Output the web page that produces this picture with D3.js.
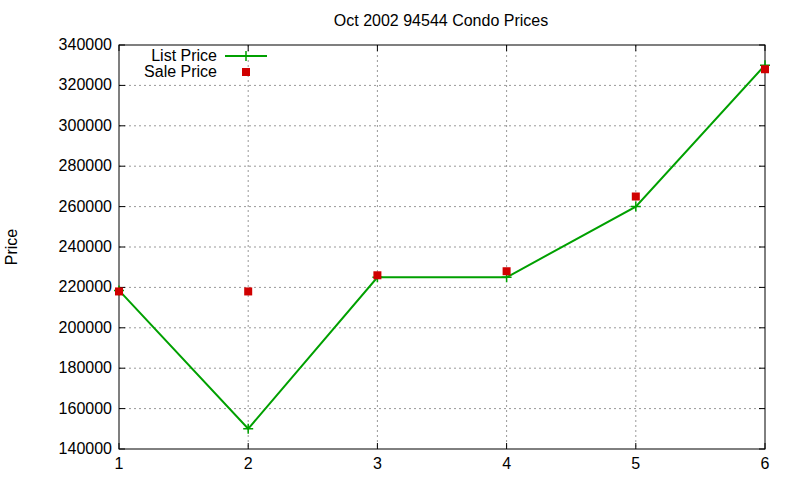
<!DOCTYPE html><html><head><script src="https://cdn.jsdelivr.net/npm/d3@7"></script>
<style>body{margin:0;background:#fff}text{font-family:"Liberation Sans",Arial,sans-serif}</style></head><body>
<script>
const xs=[1,2,3,4,5,6];
const listPrice=[218500,150000,225000,225000,260000,330000];
const salePrice=[218000,218000,226000,228000,265000,328000];
const yTicks=[140000,160000,180000,200000,220000,240000,260000,280000,300000,320000,340000];
const W=800,H=480,L=119,R=765,T=45,B=449,FS=16;
const svg=d3.select("body").append("svg").attr("width",W).attr("height",H);
const x=d3.scaleLinear().domain([1,6]).range([L,R]);
const y=d3.scaleLinear().domain([140000,340000]).range([B,T]);
const g=svg.append("g");
xs.forEach(v=>{if(v>1&&v<6)g.append("line").attr("x1",x(v)).attr("x2",x(v)).attr("y1",T).attr("y2",B).attr("stroke","#999").attr("stroke-dasharray","2,3");});
yTicks.forEach(v=>{if(v>140000&&v<340000)g.append("line").attr("x1",L).attr("x2",R).attr("y1",y(v)).attr("y2",y(v)).attr("stroke","#999").attr("stroke-dasharray","2,3");});
svg.append("rect").attr("x",L).attr("y",T).attr("width",R-L).attr("height",B-T).attr("fill","none").attr("stroke","#000");
yTicks.forEach(v=>{
 svg.append("line").attr("x1",L).attr("x2",L+6).attr("y1",y(v)).attr("y2",y(v)).attr("stroke","#000");
 svg.append("line").attr("x1",R).attr("x2",R-6).attr("y1",y(v)).attr("y2",y(v)).attr("stroke","#000");
 svg.append("text").attr("x",L-7).attr("y",y(v)+5).attr("text-anchor","end").attr("font-size",FS).text(v);
});
xs.forEach(v=>{
 svg.append("line").attr("x1",x(v)).attr("x2",x(v)).attr("y1",B).attr("y2",B-6).attr("stroke","#000");
 svg.append("line").attr("x1",x(v)).attr("x2",x(v)).attr("y1",T).attr("y2",T+6).attr("stroke","#000");
 svg.append("text").attr("x",x(v)).attr("y",B+20).attr("text-anchor","middle").attr("font-size",FS).text(v);
});
svg.append("text").attr("x",441).attr("y",26).attr("text-anchor","middle").attr("font-size",FS).text("Oct 2002 94544 Condo Prices");
svg.append("text").attr("transform","translate(17,247) rotate(-90)").attr("text-anchor","middle").attr("font-size",FS).text("Price");
const green="#00a000",red="#d00000";
svg.append("path").attr("d",d3.line().x((d,i)=>x(xs[i])).y(d=>y(d))(listPrice)).attr("fill","none").attr("stroke",green).attr("stroke-width",2);
const plus=(cx,cy)=>svg.append("path").attr("d",`M${cx-5},${cy}H${cx+5}M${cx},${cy-5}V${cy+5}`).attr("stroke",green).attr("stroke-width",1.5);
listPrice.forEach((d,i)=>plus(x(xs[i]),y(d)));
salePrice.forEach((d,i)=>svg.append("rect").attr("x",x(xs[i])-4).attr("y",y(d)-4).attr("width",8).attr("height",8).attr("fill",red));
svg.append("text").attr("x",217).attr("y",61).attr("text-anchor","end").attr("font-size",FS).text("List Price");
svg.append("line").attr("x1",225).attr("x2",267).attr("y1",56).attr("y2",56).attr("stroke",green).attr("stroke-width",2);
plus(246,56);
svg.append("text").attr("x",217).attr("y",77).attr("text-anchor","end").attr("font-size",FS).text("Sale Price");
svg.append("rect").attr("x",242).attr("y",68).attr("width",8).attr("height",8).attr("fill",red);
</script></body></html>
